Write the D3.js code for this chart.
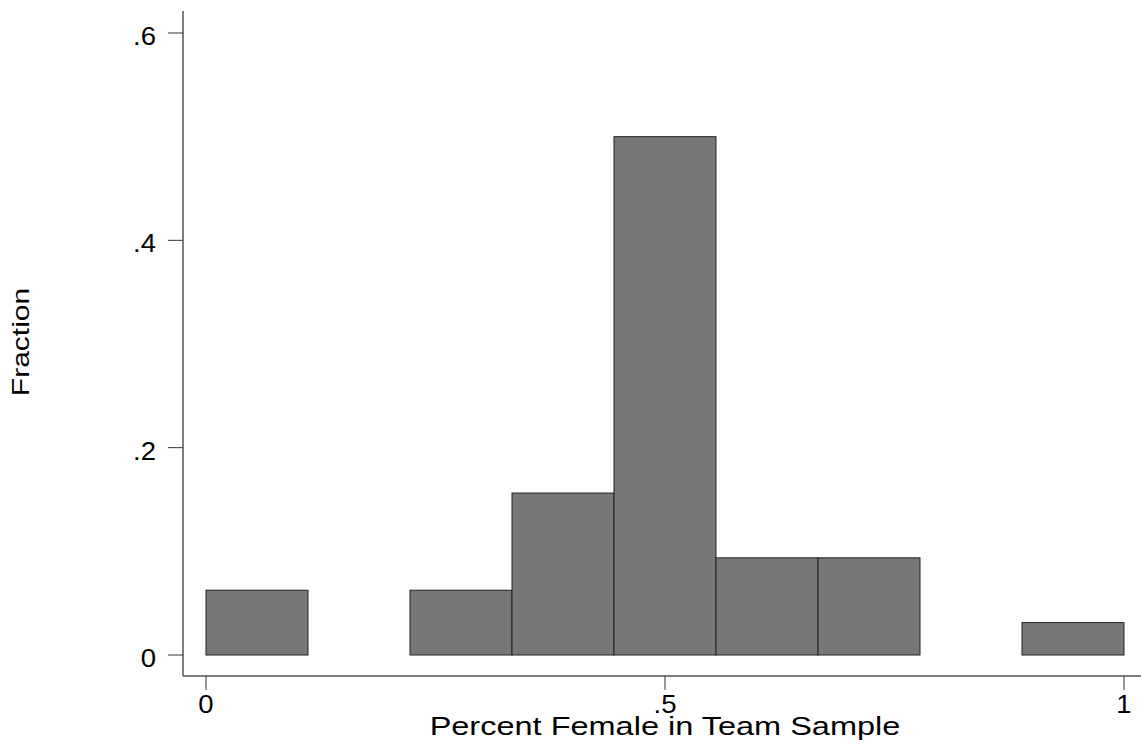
<!DOCTYPE html>
<html>
<head>
<meta charset="utf-8">
<script src="https://cdn.jsdelivr.net/npm/d3@7"></script>
<style>
  html, body { margin: 0; padding: 0; background: white; }
  svg { display: block; font-family: "Liberation Sans", Arial, sans-serif; }
</style>
</head>
<body>
<div id="chart"></div>
<script>
var
  // bin edges (9 bins over 0..1) and the fraction in each
  binStarts = [0, 1/9, 2/9, 3/9, 4/9, 5/9, 6/9, 7/9, 8/9],
  binWidth = 1/9,
  fractions = [0.0625, 0, 0.0625, 0.15625, 0.5, 0.09375, 0.09375, 0, 0.03125],

  xTicks = [0, 0.5, 1],
  xTickLabels = ["0", ".5", "1"],
  yTicks = [0, 0.2, 0.4, 0.6],
  yTickLabels = ["0", ".2", ".4", ".6"],

  WIDTH = 1141,
  HEIGHT = 745,
  BAR_FILL = "#777777",
  BAR_STROKE = "#222222",
  AXIS_COLOR = "#555555",
  // the original text is drawn a bit wider than the font
  TITLE_STRETCH = 1.25,
  TICK_STRETCH = 1.1;

var svg = d3.select("#chart").append("svg")
  .attr("width", WIDTH)
  .attr("height", HEIGHT);

svg.append("rect")
  .attr("width", WIDTH)
  .attr("height", HEIGHT)
  .attr("fill", "white");

function addText(parent, x, y, str, size, anchor, stretch, angle){
  return parent.append("text")
    .attr("transform", "translate(" + x + "," + y + ") rotate(" + (angle || 0) + ") scale(" + stretch + ",1)")
    .attr("text-anchor", anchor)
    .attr("font-size", size)
    .attr("fill", "black")
    .text(str);
}

var x = d3.scaleLinear().domain([0, 1]).range([206, 1124]);
var y = d3.scaleLinear().domain([0, 0.6]).range([655, 33]);

// bars
svg.append("g")
  .selectAll("rect")
  .data(fractions.map(function(f, i){ return {x0: binStarts[i], f: f}; })
    .filter(function(d){ return d.f > 0; }))
  .join("rect")
  .attr("x", function(d){ return x(d.x0); })
  .attr("y", function(d){ return y(d.f); })
  .attr("width", function(d){ return x(d.x0 + binWidth) - x(d.x0); })
  .attr("height", function(d){ return y(0) - y(d.f); })
  .attr("fill", BAR_FILL)
  .attr("stroke", BAR_STROKE)
  .attr("stroke-width", 1);

// y axis
var yAxis = svg.append("g").attr("transform", "translate(183,0)");
yAxis.append("line")
  .attr("x1", 0).attr("x2", 0)
  .attr("y1", 11).attr("y2", 676)
  .attr("stroke", AXIS_COLOR).attr("stroke-width", 1.5);
yTicks.forEach(function(t, i){
  yAxis.append("line")
    .attr("x1", -15).attr("x2", 0)
    .attr("y1", y(t)).attr("y2", y(t))
    .attr("stroke", "#333").attr("stroke-width", 1);
  addText(yAxis, -27, y(t) + 12, yTickLabels[i], 25, "end", TICK_STRETCH);
});

// x axis
var xAxis = svg.append("g").attr("transform", "translate(0,676)");
xAxis.append("line")
  .attr("x1", 183).attr("x2", WIDTH)
  .attr("y1", 0).attr("y2", 0)
  .attr("stroke", AXIS_COLOR).attr("stroke-width", 1.5);
xTicks.forEach(function(t, i){
  xAxis.append("line")
    .attr("x1", x(t)).attr("x2", x(t))
    .attr("y1", 0).attr("y2", 14)
    .attr("stroke", "#333").attr("stroke-width", 1);
  addText(xAxis, x(t), 37, xTickLabels[i], 25, "middle", TICK_STRETCH);
});

// axis titles
addText(svg, (x(0) + x(1)) / 2, 735, "Percent Female in Team Sample", 26, "middle", TITLE_STRETCH);
addText(svg, 29, 342, "Fraction", 24, "middle", TITLE_STRETCH, -90);
</script>
</body>
</html>
